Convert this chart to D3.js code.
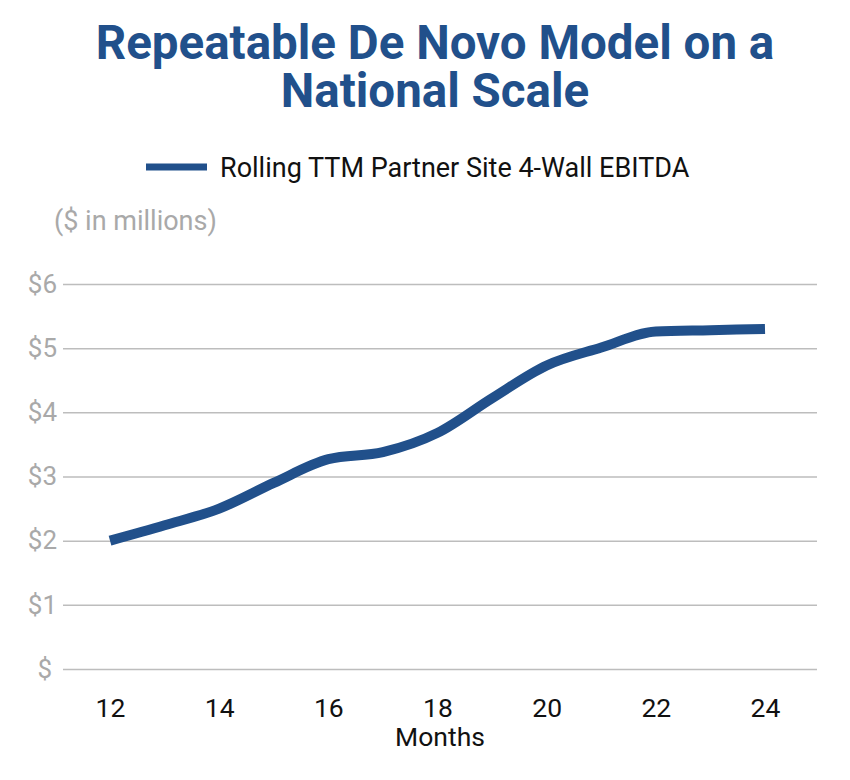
<!DOCTYPE html>
<html><head><meta charset="utf-8">
<script src="https://cdn.jsdelivr.net/npm/d3@7"></script>
<style>body{margin:0;background:#fff}svg{display:block}text{font-family:Roboto,"Noto Sans",sans-serif}</style>
</head><body>
<svg id="c" width="850" height="780"></svg>
<script>
const titleLines = ["Repeatable De Novo Model on a", "National Scale"];
const seriesName = "Rolling TTM Partner Site 4-Wall EBITDA";
const unitLabel = "($ in millions)";
const xLabel = "Months";
const months = [12,13,14,15,16,17,18,19,20,21,22,23,24];
const ebitda = [2.0,2.24,2.5,2.9,3.27,3.38,3.68,4.22,4.73,5.01,5.26,5.28,5.3];
const yTicks = [0,1,2,3,4,5,6];
const yTickLabels = ["$","$1","$2","$3","$4","$5","$6"];
const xTicks = [12,14,16,18,20,22,24];

const blue = "#21508b", gray = "#a9a9a9";
const svg = d3.select("#c");
const x = d3.scaleLinear().domain([12,24]).range([110,765]);
const y = d3.scaleLinear().domain([0,6]).range([669,284]);

svg.append("g").selectAll("text").data(titleLines).join("text")
  .attr("x",435).attr("y",(d,i)=>59+i*48).attr("text-anchor","middle")
  .attr("font-size",47.5).attr("font-weight","bold").attr("fill",blue).text(d=>d);

svg.append("line").attr("x1",146).attr("x2",207).attr("y1",167).attr("y2",167)
  .attr("stroke",blue).attr("stroke-width",7);
svg.append("text").attr("x",220).attr("y",177).attr("font-size",27).attr("fill","#111").text(seriesName);
svg.append("text").attr("x",54).attr("y",230).attr("font-size",27).attr("fill",gray).text(unitLabel);

const yAxis = d3.axisLeft(y).tickValues(yTicks).tickSize(-(817-63)).tickFormat((d,i)=>yTickLabels[i]);
const gy = svg.append("g").attr("transform","translate(63,0)").call(yAxis);
gy.select(".domain").remove();
gy.selectAll(".tick line").attr("stroke","#bdbdbd").attr("stroke-width",1.5);
gy.selectAll(".tick text").attr("x",d=>d===0?-11:-6).attr("font-size",26).attr("fill",gray).attr("font-family","Roboto");

const xAxis = d3.axisBottom(x).tickValues(xTicks).tickSize(0).tickFormat(d3.format("d"));
const gx = svg.append("g").attr("transform","translate(0,695)").call(xAxis);
gx.select(".domain").remove();
gx.selectAll(".tick text").attr("dy","0.71em").attr("font-size",26.5).attr("fill","#111").attr("font-family","Roboto");

svg.append("text").attr("x",440).attr("y",746).attr("text-anchor","middle").attr("font-size",26.5).attr("fill","#111").text(xLabel);

const line = d3.line().x((d,i)=>x(months[i])).y(d=>y(d)).curve(d3.curveMonotoneX);
svg.append("path").datum(ebitda).attr("d",line).attr("fill","none")
  .attr("stroke",blue).attr("stroke-width",10);
</script>
</body></html>
